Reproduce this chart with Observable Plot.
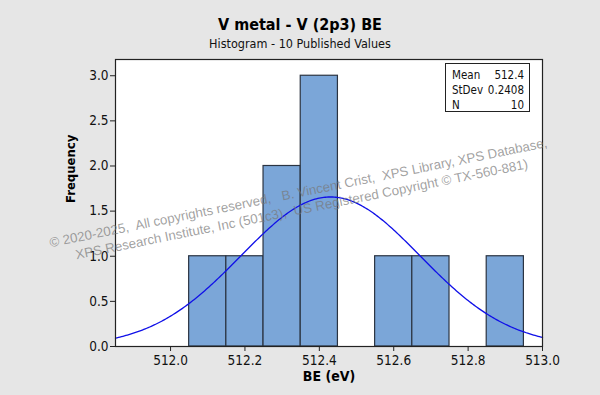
<!DOCTYPE html>
<html>
<head>
<meta charset="utf-8">
<script src="https://cdn.jsdelivr.net/npm/d3@7"></script>
<script src="https://cdn.jsdelivr.net/npm/@observablehq/plot@0.6"></script>
<style>
html, body { margin: 0; padding: 0; background: #e6e6e6; }
#wrap { position: relative; width: 600px; height: 395px; overflow: hidden;
  font-family: "DejaVu Sans Condensed", "DejaVu Sans", sans-serif; color: #111; }
#title { padding-top: 15px; height: 20px; line-height: 20px; text-align: center;
  font-size: 16px; font-weight: bold; color: #000; }
#sub { height: 17px; line-height: 17px; text-align: center; font-size: 12.5px; color: #111; }
#chart svg { display: block; }
#stats { position: absolute; left: 445px; top: 63px; width: 85px; height: 49px;
  border: 1px solid #222; background: #fff; font-size: 11.5px; color: #111;
  padding: 4px 0 0 0; box-sizing: border-box; }
#stats .row { display: flex; justify-content: space-between; padding: 0 5px 0 6px; height: 15px; line-height: 15px; }
#wm { position: absolute; left: 300px; top: 201px; transform: translate(-50%, -50%) rotate(-11.4deg);
  white-space: pre; text-align: center; font-family: "Liberation Sans", Arial, sans-serif;
  font-size: 13.3px; line-height: 17px; color: rgba(120,120,120,0.7); pointer-events: none; }
</style>
</head>
<body>
<div id="wrap">
  <div id="title"></div>
  <div id="sub"></div>
  <div id="chart"></div>
  <div id="stats"></div>
  <div id="wm"></div>
</div>
<script>
// ---- data ----
const titleText = "V metal - V (2p3) BE";
const subtitleText = "Histogram - 10 Published Values";
const binLo = [512.05, 512.15, 512.25, 512.35, 512.55, 512.65, 512.85];
const binHi = [512.15, 512.25, 512.35, 512.45, 512.65, 512.75, 512.95];
const counts = [1, 1, 2, 3, 1, 1, 1];
const xTicks = [512.0, 512.2, 512.4, 512.6, 512.8, 513.0];
const yTicks = [0, 0.5, 1.0, 1.5, 2.0, 2.5, 3.0];
const xDomain = [511.852, 513.0];
const yDomain = [0, 3.18];
const statLabels = ["Mean", "StDev", "N"];
const statValues = ["512.4", "0.2408", "10"];
const fitMean = 512.43;   // peak position of the fitted curve
const fitSd = 0.2408;
const fitN = 10;
const binWidth = 0.1;
const watermarkLines = [
  "\u00a9 2020-2025,  All copyrights reserved,   B. Vincent Crist,  XPS Library, XPS Database,",
  "XPS Research Institute, Inc (501c3),  US Registered Copyright \u00a9 TX-560-881)"
];

// ---- tables built from the arrays ----
const bins = binLo.map((lo, i) => ({lo, hi: binHi[i], count: counts[i]}));
// fitted normal curve (scaled to counts per bin), as drawn by the source chart
const fitX = d3.range(xDomain[0], xDomain[1] + 1e-9, 0.004);
const fit = fitX.map(x => ({
  x,
  y: fitN * binWidth / (fitSd * Math.sqrt(2 * Math.PI)) * Math.exp(-0.5 * ((x - fitMean) / fitSd) ** 2)
}));

document.getElementById("title").textContent = titleText;
document.getElementById("sub").textContent = subtitleText;
document.getElementById("stats").innerHTML = statLabels
  .map((l, i) => `<div class="row"><span>${l}</span><span>${statValues[i]}</span></div>`).join("");
document.getElementById("wm").textContent = watermarkLines.join("\n");

const fmt = d3.format(".1f");
const chart = Plot.plot({
  width: 600,
  height: 343,
  marginTop: 7,
  marginBottom: 49,
  marginLeft: 115,
  marginRight: 58,
  style: { background: "transparent", fontFamily: "\"DejaVu Sans Condensed\", \"DejaVu Sans\", sans-serif", fontSize: "13.5px", color: "#111" },
  x: { domain: xDomain },
  y: { domain: yDomain },
  marks: [
    Plot.frame({ fill: "#fff", stroke: "none" }),
    Plot.rectY(bins, { x1: "lo", x2: "hi", y: "count", fill: "#7ba6d8", stroke: "#2b3442", strokeWidth: 1.2 }),
    Plot.line(fit, { x: "x", y: "y", stroke: "#1010e8", strokeWidth: 1.3 }),
    Plot.frame({ stroke: "#222", strokeWidth: 1.2 }),
    Plot.axisX({ ticks: xTicks, tickFormat: fmt, tickSize: 5, tickPadding: 4, label: null, stroke: "#222" }),
    Plot.axisY({ ticks: yTicks, tickFormat: fmt, tickSize: 5, tickPadding: 2, label: null, stroke: "#222" }),
    Plot.text(["BE (eV)"], { frameAnchor: "bottom", dy: 34, fontWeight: "bold", fontSize: 14, fill: "#000" }),
    Plot.text(["Frequency"], { frameAnchor: "left", dx: -45, rotate: -90, fontWeight: "bold", fontSize: 13, fill: "#000" })
  ]
});
document.getElementById("chart").appendChild(chart);
</script>
</body>
</html>
